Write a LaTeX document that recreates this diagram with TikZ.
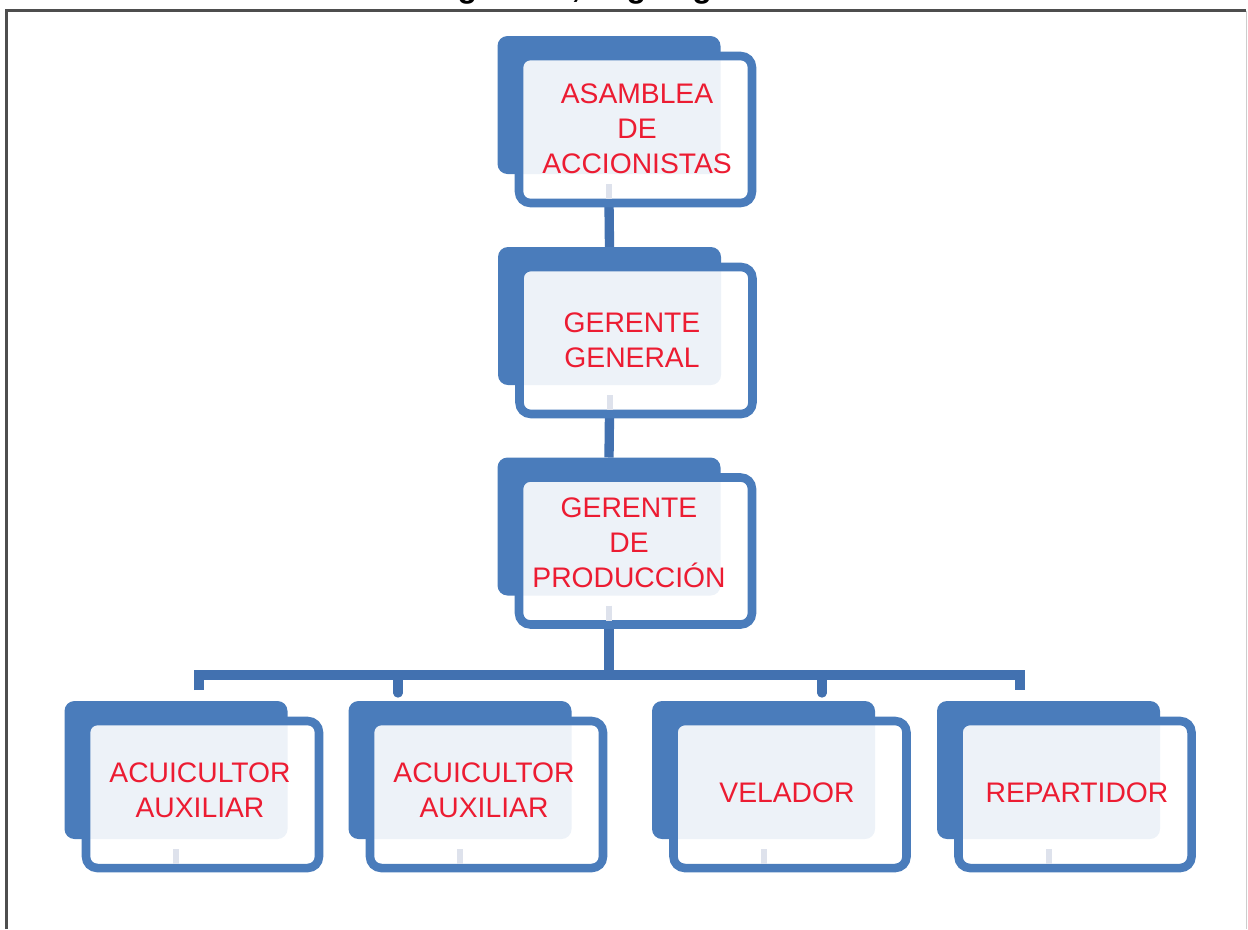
\documentclass[tikz,border=0pt]{standalone}
\usepackage{fontspec}
\setmainfont{Liberation Sans}
\usetikzlibrary{backgrounds}

\definecolor{orgblue}{RGB}{74,124,187}
\definecolor{connblue}{RGB}{66,113,176}
\definecolor{orgred}{RGB}{236,28,50}
\definecolor{framegray}{RGB}{78,78,78}
\definecolor{edgegray}{RGB}{205,205,205}
\definecolor{tickgray}{RGB}{222,226,236}

% one unit of the organisation chart: a solid back card and a framed front card
% #1 name, #2/#3 centre of the back card
\newcommand{\orgunit}[3]{%
  \node[backbox] (#1-b) at (#2,#3) {};
  \node[frontbox] (#1-f) at (#2+26.5,#3+24.5) {};
  \draw[tickmark] (#1-b.south) -- (#1-b.south |- #1-f.south);
}

\begin{document}
\begin{tikzpicture}[x=0.75pt,y=-0.75pt,
  backbox/.style={rectangle, rounded corners=7.5pt, fill=orgblue,
    minimum width=167.25pt, minimum height=103.5pt, inner sep=0pt, outer sep=0pt},
  frontbox/.style={rectangle, rounded corners=8.5pt, draw=orgblue, line width=6.4pt,
    fill=white, fill opacity=0.9, minimum width=174.75pt, minimum height=110.25pt,
    inner sep=0pt, outer sep=0pt},
  txt/.style={text=orgred, align=center, inner sep=0pt,
    font=\fontsize{21.2}{26.25}\selectfont},
  conn/.style={draw=connblue, line width=7pt},
  tickmark/.style={draw=tickgray, line width=4.5pt, shorten <=7.5pt, shorten >=3pt},
  frameline/.style={draw=framegray, line width=2.25pt},
  titletext/.style={inner sep=0pt, font=\fontsize{24}{28}\selectfont\bfseries},
]
\useasboundingbox (0,0) rectangle (1248,929);

% caption running above the page edge
\begin{scope}
  \clip (0,0) rectangle (1248,929);
  \node[titletext, anchor=base west] (title) at (429,-2.5) {Figura 10, Organigrama};
\end{scope}

% page frame
\draw[frameline] (6,929) -- (6,10.5) -- (1246,10.5);
\draw[edgegray, line width=1.2pt] (1246.5,10.5) -- (1246.5,929);

% cards
\orgunit{asm}{609}{105}
\orgunit{gg}{609.5}{316}
\orgunit{gp}{609}{526.5}
\orgunit{aa1}{176}{770}
\orgunit{aa2}{460}{770}
\orgunit{vel}{763.5}{770}
\orgunit{rep}{1048.5}{770}

% card texts
\node[txt] (t-asm) at (637,128.5) {ASAMBLEA\\DE\\ACCIONISTAS};
\node[txt] (t-gg)  at (632,340) {GERENTE\\GENERAL};
\node[txt] (t-gp)  at (629,543) {GERENTE\\DE\\PRODUCCIÓN};
\node[txt] (t-aa1) at (200,790) {ACUICULTOR\\AUXILIAR};
\node[txt] (t-aa2) at (484,790) {ACUICULTOR\\AUXILIAR};
\node[txt] (t-vel) at (787,793) {VELADOR};
\node[txt] (t-rep) at (1077,793) {REPARTIDOR};

% bus ends
\coordinate (busl) at (199,675);
\coordinate (busr) at (1020,675);
\coordinate (d1) at (199,690);
\coordinate (d2) at (398,693);
\coordinate (d3) at (822,693);
\coordinate (d4) at (1020,690);

% connectors
\begin{pgfonlayer}{background}
  \draw[conn] (asm-b.south |- asm-f.south) -- (gg-b.north);
  \draw[conn] (gg-b.south |- gg-f.south) -- (gp-b.north);
  \draw[conn] (gp-b.south |- gp-f.south) -- (gp-b.south |- busl);
  \draw[conn, line join=miter] (d1) -- (busl) -- (busr) -- (d4);
  \draw[conn, line cap=round] (d2 |- busl) -- (d2);
  \draw[conn, line cap=round] (d3 |- busl) -- (d3);
\end{pgfonlayer}
\end{tikzpicture}
\end{document}
